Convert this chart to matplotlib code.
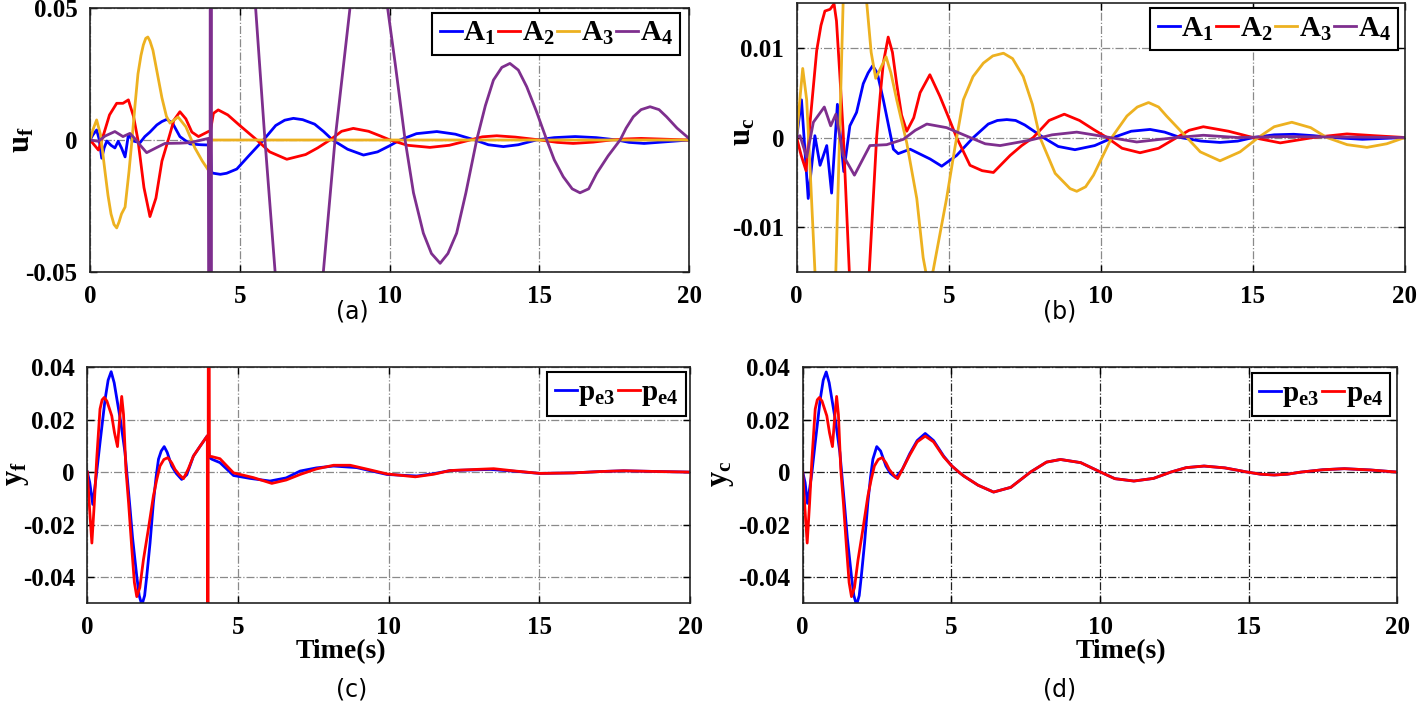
import matplotlib
matplotlib.use("Agg")
import matplotlib.pyplot as plt

plt.rcParams['font.family'] = 'Liberation Serif'
plt.rcParams['font.weight'] = 'bold'
plt.rcParams['mathtext.fontset'] = 'custom'
plt.rcParams['mathtext.rm'] = 'Liberation Serif'
plt.rcParams['mathtext.bf'] = 'Liberation Serif:bold'

# ---- panel (a): u_f ----
a_t1 = [0, 0.1, 0.22, 0.3, 0.39, 0.47, 0.56, 0.7, 0.83, 0.94, 1.05, 1.17, 1.28, 1.45, 1.67, 1.83, 2.0, 2.23, 2.4, 2.56,
        2.75, 3.0, 3.34, 3.7, 3.95, 4.02, 4.05, 4.12, 4.35, 4.56, 4.9, 5.3, 5.79, 6.2, 6.5, 6.79, 7.1, 7.5, 7.8, 8.1,
        8.6, 9.13, 9.6, 10.0, 10.35, 10.9, 11.58, 12.2, 12.85, 13.3, 13.8, 14.3, 14.9, 15.5, 16.2, 16.9, 17.6, 18.0,
        18.5, 19.2, 20]
a_u1 = [0, 0.002, 0.0038, 0.0005, -0.0069, -0.003, -0.0004, -0.002, -0.003, -0.0005, -0.003, -0.0064, 0.0019, -0.0004,
        -0.001, 0.0013, 0.003, 0.0057, 0.007, 0.0078, 0.0065, 0.0013, -0.0015, -0.0018, -0.0019, -0.002, -0.0122,
        -0.0126, -0.013, -0.0126, -0.011, -0.006, 0, 0.0055, 0.0075, 0.0082, 0.0077, 0.006, 0.0032, 0, -0.0035,
        -0.0057, -0.0045, -0.0022, 0, 0.0024, 0.0032, 0.0022, 0, -0.0018, -0.0025, -0.0018, 0, 0.0009, 0.0013, 0.0009,
        0, -0.0009, -0.0013, -0.0007, 0]

a_t2 = [0, 0.15, 0.28, 0.45, 0.65, 0.89, 1.1, 1.28, 1.45, 1.6, 1.8, 2.0, 2.2, 2.4, 2.61, 2.8, 3.0, 3.2, 3.4, 3.62, 3.95,
        4.02, 4.12, 4.28, 4.6, 5.0, 5.57, 6.0, 6.57, 7.2, 7.6, 8.01, 8.4, 8.79, 9.3, 9.7, 10.02, 10.6, 11.35, 12.0,
        12.69, 13.1, 13.58, 14.2, 15.03, 15.6, 16.13, 16.8, 17.4, 17.9, 18.4, 19.2, 20]
a_u2 = [0, -0.002, -0.0038, 0.002, 0.0095, 0.0139, 0.0139, 0.0152, 0.009, 0, -0.018, -0.029, -0.022, -0.008, 0, 0.0075,
        0.0107, 0.008, 0.003, 0.0013, 0.0032, 0.0035, 0.0101, 0.0114, 0.0095, 0.0055, 0, -0.0045, -0.0073, -0.0055,
        -0.003, 0, 0.0033, 0.0044, 0.0033, 0.0015, 0, -0.002, -0.0028, -0.002, 0, 0.0012, 0.0016, 0.0011, 0, -0.0009,
        -0.0013, -0.0008, 0, 0.0004, 0.0006, 0.0003, 0]

a_t3 = [0, 0.1, 0.22, 0.35, 0.5, 0.6, 0.7, 0.8, 0.89, 0.97, 1.05, 1.17, 1.3, 1.4, 1.5, 1.6, 1.7, 1.78, 1.86, 1.93, 2.0,
        2.1, 2.25, 2.4, 2.55, 2.67, 2.8, 2.94, 3.2, 3.5, 3.75, 3.95, 4.0, 20]
a_u3 = [0, 0.004, 0.0076, 0.002, -0.012, -0.021, -0.028, -0.032, -0.0333, -0.031, -0.028, -0.0254, -0.012, 0, 0.013,
        0.025, 0.032, 0.036, 0.0385, 0.039, 0.0375, 0.034, 0.025, 0.016, 0.009, 0.0064, 0.0075, 0.0087, 0.005, -0.003,
        -0.008, -0.0114, 0, 0]

a_t4 = [0, 0.28, 0.5, 0.83, 1.1, 1.33, 1.5, 1.67, 1.89, 2.2, 2.5, 3.0, 3.34, 3.95, 4.0, 4.02, 4.04, 4.06, 4.6, 5.2, 5.51,
        5.84, 6.18, 6.6, 7.0, 7.4, 7.79, 8.18, 8.68, 9.1, 9.5, 9.9, 10.2, 10.52, 10.8, 11.13, 11.4, 11.69, 11.95,
        12.24, 12.55, 12.91, 13.2, 13.47, 13.75, 14.02, 14.3, 14.58, 14.9, 15.25, 15.5, 15.8, 16.1, 16.36, 16.65,
        16.92, 17.3, 17.7, 17.9, 18.14, 18.4, 18.7, 19.0, 19.25, 19.6, 20]
a_u4 = [0, -0.0005, 0.0015, 0.0032, 0.0013, 0.0025, 0.0005, -0.0019, -0.0048, -0.003, -0.0013, -0.0012, -0.001, 0.0006,
        -0.3, 0.3, -0.3, 0.3, 0.2, 0.09, 0.053, 0, -0.05, -0.09, -0.1, -0.085, -0.05, 0, 0.05, 0.075, 0.07, 0.053, 0.028,
        0, -0.02, -0.0353, -0.043, -0.0467, -0.043, -0.0353, -0.02, 0, 0.013, 0.0227, 0.0275, 0.029, 0.0265, 0.0202,
        0.011, 0, -0.0075, -0.0139, -0.0185, -0.02, -0.0185, -0.0126, -0.006, 0, 0.0045, 0.0088, 0.0115, 0.0126,
        0.0115, 0.0088, 0.0045, 0.0006]

# ---- panel (b): u_c ----
b_t1 = [0, 0.16, 0.38, 0.6, 0.77, 0.99, 1.15, 1.34, 1.55, 1.75, 1.97, 2.19, 2.35, 2.5, 2.65, 2.85, 3.18, 3.34, 3.73,
        4.39, 4.77, 5.26, 5.81, 6.3, 6.6, 6.91, 7.2, 7.5, 8.11, 8.6, 9.15, 9.8, 10.41, 11.0, 11.62, 12.1, 12.61, 13.3,
        13.92, 14.5, 15.02, 15.7, 16.34, 17.0, 17.6, 18.6, 19.3, 20]
b_u1 = [0, 0.0042, -0.0068, 0.0002, -0.0031, -0.0009, -0.0062, 0.0037, -0.0038, 0.0013, 0.0028, 0.006, 0.0072, 0.008,
        0.0072, 0.0042, -0.0013, -0.0018, -0.0013, -0.0024, -0.0032, -0.002, 0, 0.0015, 0.0019, 0.002, 0.0019, 0.0014,
        0, -0.001, -0.00136, -0.0009, 0, 0.0007, 0.0009, 0.0006, 0, -0.0004, -0.00055, -0.0004, 0, 0.0003, 0.00036,
        0.0002, 0, -0.0002, -0.0001, 0]

b_t2 = [0, 0.15, 0.31, 0.45, 0.66, 0.8, 0.93, 1.1, 1.23, 1.31, 1.42, 1.53, 1.73, 1.95, 2.15, 2.39, 2.63, 2.75, 2.85,
        3.01, 3.15, 3.29, 3.45, 3.62, 3.85, 4.06, 4.38, 4.71, 5.0, 5.26, 5.7, 6.1, 6.47, 7.02, 7.4, 7.78, 8.3, 8.8, 9.3,
        9.76, 10.2, 10.7, 11.29, 11.9, 12.5, 12.9, 13.37, 14.2, 15.0, 15.9, 16.99, 18.09, 19.0, 20]
b_u2 = [0, -0.002, -0.0037, 0.002, 0.0097, 0.0125, 0.0141, 0.0143, 0.0149, 0.013, 0.007, 0.0006, -0.0148, -0.025, -0.025,
        -0.0148, 0, 0.0048, 0.0083, 0.0112, 0.0095, 0.006, 0.0025, 0.0007, 0.0022, 0.005, 0.007, 0.0046, 0.0022, 0,
        -0.0031, -0.0037, -0.0039, -0.002, -0.0009, 0, 0.0019, 0.0026, 0.0019, 0.0009, 0, -0.0012, -0.0017, -0.0012, 0,
        0.0008, 0.0012, 0.0007, 0, -0.0006, 0, 0.0004, 0.0002, 0]

b_t3 = [0, 0.1, 0.2, 0.33, 0.45, 0.6, 0.8, 1.0, 1.29, 1.41, 1.53, 1.8, 2.0, 2.3, 2.45, 2.6, 2.77, 2.94, 3.1, 3.29, 3.62,
        3.95, 4.16, 4.33, 4.49, 4.93, 5.2, 5.48, 5.8, 6.14, 6.45, 6.8, 7.1, 7.45, 7.75, 8.0, 8.5, 8.99, 9.21, 9.5, 9.76,
        10.36, 10.86, 11.2, 11.57, 11.9, 12.16, 12.83, 13.27, 13.92, 14.58, 15.18, 15.7, 16.28, 16.9, 17.43, 18.1,
        18.75, 19.4, 20]
b_u3 = [0, 0.004, 0.0077, 0.0042, -0.004, -0.0148, -0.025, -0.028, -0.0148, 0, 0.0152, 0.026, 0.028, 0.0152, 0.0095,
        0.0066, 0.0078, 0.009, 0.0072, 0.0042, -0.0006, -0.0068, -0.0134, -0.0165, -0.0148, -0.0068, -0.0012, 0.0042,
        0.0068, 0.0083, 0.0091, 0.0094, 0.0088, 0.0068, 0.0037, 0, -0.004, -0.0057, -0.006, -0.0055, -0.0042, 0,
        0.0024, 0.0034, 0.0039, 0.0034, 0.0024, 0, -0.0016, -0.0026, -0.0016, 0, 0.0012, 0.0017, 0.0011, 0, -0.0008,
        -0.0011, -0.0007, 0]

b_t4 = [0, 0.11, 0.33, 0.55, 0.91, 1.12, 1.29, 1.53, 1.9, 2.41, 2.96, 3.51, 3.9, 4.28, 4.93, 5.7, 6.2, 6.69, 7.67, 8.4,
        9.21, 10.3, 11.18, 12.5, 13.37, 14.5, 16, 20]
b_u4 = [0, 0.0002, -0.0022, 0.0017, 0.0034, 0.0013, 0.0026, -0.002, -0.0042, -0.0009, -0.0008, -0.0002, 0.0008, 0.0015,
        0.0011, 0, -0.0007, -0.0009, -0.0003, 0.0003, 0.0006, 0, -0.0005, 0, 0.00025, 0, 0.0001, 0]

# ---- panel (c): y_f ----
c_t1 = [0, 0.08, 0.18, 0.3, 0.42, 0.59, 0.69, 0.79, 0.89, 0.98, 1.11, 1.25, 1.42, 1.5, 1.64, 1.72, 1.81, 1.9, 1.97,
        2.08, 2.19, 2.28, 2.36, 2.45, 2.55, 2.65, 2.8, 2.95, 3.13, 3.3, 3.52, 3.75, 3.98, 4.05, 4.13, 4.4, 4.85, 5.4,
        6.06, 6.6, 7.06, 7.6, 8.17, 8.94, 9.4, 9.94, 10.93, 11.5, 12.04, 13.37, 14.2, 15.02, 16.13, 17.0, 17.79, 19, 20]
c_u1 = [0, -0.004, -0.0123, -0.001, 0.0112, 0.0278, 0.035, 0.0382, 0.034, 0.0278, 0.0189, 0.0074, -0.0143, -0.025,
        -0.0397, -0.047, -0.0506, -0.047, -0.0397, -0.027, -0.0117, -0.002, 0.0049, 0.008, 0.0097, 0.0075, 0.0023,
        -0.0005, -0.0028, -0.001, 0.0061, 0.01, 0.0138, 0.0055, 0.0049, 0.0036, -0.0013, -0.0024, -0.0034, -0.0022,
        0.0004, 0.0016, 0.0023, 0.0017, 0.0005, -0.0009, -0.0015, -0.0006, 0.0006, 0.001, 0.0003, -0.0005, -0.0003,
        0.0002, 0.0005, 0.0002, 0]

c_t2 = [0, 0.08, 0.15, 0.23, 0.31, 0.42, 0.49, 0.56, 0.65, 0.81, 0.9, 1.0, 1.07, 1.14, 1.2, 1.28, 1.37, 1.47, 1.56, 1.64,
        1.74, 1.86, 2.02, 2.19, 2.3, 2.41, 2.54, 2.67, 2.8, 2.91, 3.05, 3.19, 3.35, 3.52, 3.75, 3.98, 4.0, 4.02, 4.05,
        4.13, 4.4, 4.85, 5.51, 6.12, 6.6, 7.06, 7.6, 8.17, 8.72, 9.4, 9.94, 10.88, 11.5, 12.04, 13.48, 14.2, 15.02,
        16.13, 17.0, 17.79, 19, 20]
c_u2 = [0, -0.015, -0.027, -0.012, 0.0049, 0.024, 0.0275, 0.0284, 0.027, 0.0214, 0.015, 0.0097, 0.02, 0.0288, 0.022,
        0.001, -0.012, -0.0283, -0.042, -0.0474, -0.044, -0.0334, -0.022, -0.0092, -0.003, 0.0023, 0.0048, 0.0055,
        0.0035, 0.001, -0.001, -0.0025, 0.0012, 0.0061, 0.01, 0.0138, -0.2, 0.2, 0.006, 0.0059, 0.0051, -0.0003, -0.0021,
        -0.0043, -0.003, -0.0009, 0.0012, 0.0026, 0.0026, 0.0008, -0.0007, -0.0018, -0.0008, 0.0006, 0.0013, 0.0004,
        -0.0005, -0.0003, 0.0002, 0.0005, 0.0002, 0]

# ---- panel (d): y_c ----
d_t1 = [0, 0.08, 0.16, 0.3, 0.42, 0.59, 0.69, 0.79, 0.89, 0.98, 1.11, 1.25, 1.42, 1.5, 1.64, 1.72, 1.81, 1.9, 1.97,
        2.08, 2.19, 2.28, 2.36, 2.49, 2.62, 2.8, 2.95, 3.13, 3.35, 3.6, 3.85, 4.12, 4.4, 4.74, 5.0, 5.25, 5.42, 5.9,
        6.42, 7.0, 7.66, 8.2, 8.67, 9.35, 10.02, 10.5, 11.14, 11.8, 12.38, 12.9, 13.5, 14.2, 14.96, 15.4, 15.86, 16.3,
        16.76, 17.5, 18.22, 19.1, 20]
d_u1 = [0, -0.004, -0.0119, -0.001, 0.0112, 0.0278, 0.035, 0.0381, 0.034, 0.0278, 0.0189, 0.0074, -0.0143, -0.025,
        -0.0397, -0.047, -0.0506, -0.047, -0.0397, -0.027, -0.0117, -0.002, 0.0049, 0.0097, 0.008, 0.0023, -0.0005,
        -0.0021, 0.001, 0.007, 0.012, 0.0147, 0.012, 0.0061, 0.0025, 0, -0.0015, -0.005, -0.0076, -0.0058, 0, 0.0038,
        0.0048, 0.0036, 0, -0.0025, -0.0034, -0.0024, 0, 0.0017, 0.0023, 0.0016, 0, -0.0008, -0.0011, -0.0008, 0,
        0.0009, 0.0013, 0.0008, 0]

d_t2 = [0, 0.08, 0.15, 0.23, 0.31, 0.42, 0.49, 0.56, 0.65, 0.81, 0.9, 1.0, 1.07, 1.14, 1.2, 1.28, 1.37, 1.47, 1.56, 1.64,
        1.74, 1.86, 2.02, 2.19, 2.3, 2.41, 2.54, 2.67, 2.8, 2.91, 3.05, 3.19, 3.35, 3.6, 3.85, 4.12, 4.4, 4.74, 5.0,
        5.25, 5.42, 5.9, 6.42, 7.0, 7.66, 8.2, 8.67, 9.35, 10.02, 10.5, 11.14, 11.8, 12.38, 12.9, 13.5, 14.2, 14.96,
        15.4, 15.86, 16.3, 16.76, 17.5, 18.22, 19.1, 20]
d_u2 = [0, -0.015, -0.027, -0.012, 0.0049, 0.024, 0.0275, 0.0284, 0.027, 0.0214, 0.015, 0.0097, 0.02, 0.0288, 0.022,
        0.001, -0.012, -0.0283, -0.042, -0.0474, -0.044, -0.0334, -0.022, -0.0092, -0.003, 0.0023, 0.0048, 0.0055,
        0.0035, 0.001, -0.001, -0.0025, 0.001, 0.0065, 0.0115, 0.0137, 0.0115, 0.0058, 0.0025, 0, -0.0015, -0.005,
        -0.0076, -0.0058, 0, 0.0038, 0.0048, 0.0036, 0, -0.0025, -0.0034, -0.0024, 0, 0.0017, 0.0023, 0.0016, 0,
        -0.0008, -0.0011, -0.0008, 0, 0.0009, 0.0013, 0.0008, 0]

A_labels = [r'$\mathbf{A_1}$', r'$\mathbf{A_2}$', r'$\mathbf{A_3}$', r'$\mathbf{A_4}$']
p_labels = [r'$\mathbf{p_{e3}}$', r'$\mathbf{p_{e4}}$']
colors = ['#0000FF', '#FF0000', '#EDB120', '#7E2F8E']

fig = plt.figure(figsize=(14.18, 7.13), dpi=100)
ax_a = fig.add_axes([0.0635, 0.6185, 0.4224, 0.3703])
ax_b = fig.add_axes([0.5618, 0.6185, 0.4290, 0.3773])
ax_c = fig.add_axes([0.0616, 0.1536, 0.4251, 0.3317])
ax_d = fig.add_axes([0.5661, 0.1536, 0.4193, 0.3317])

lw = 2.0
for t, u, c in zip([a_t1, a_t2, a_t3, a_t4], [a_u1, a_u2, a_u3, a_u4], colors):
    ax_a.plot(t, u, color=c, lw=lw)
for t, u, c in zip([b_t1, b_t2, b_t3, b_t4], [b_u1, b_u2, b_u3, b_u4], colors):
    ax_b.plot(t, u, color=c, lw=lw)
ax_c.plot(c_t1, c_u1, color=colors[0], lw=lw)
ax_c.plot(c_t2, c_u2, color=colors[1], lw=lw)
ax_d.plot(d_t1, d_u1, color=colors[0], lw=lw)
ax_d.plot(d_t2, d_u2, color=colors[1], lw=lw)

ax_a.set_ylim(-0.05, 0.05)
ax_a.set_yticks([-0.05, 0, 0.05])
ax_a.set_yticklabels(['-0.05', '0', '0.05'])
ax_b.set_ylim(-0.015, 0.015)
ax_b.set_yticks([-0.01, 0, 0.01])
ax_b.set_yticklabels(['-0.01', '0', '0.01'])
for ax in (ax_c, ax_d):
    ax.set_ylim(-0.05, 0.04)
    ax.set_yticks([-0.04, -0.02, 0, 0.02, 0.04])
    ax.set_yticklabels(['-0.04', '-0.02', '0', '0.02', '0.04'])

for ax in (ax_a, ax_b, ax_c, ax_d):
    ax.set_xlim(0, 20)
    ax.set_xticks([0, 5, 10, 15, 20])
    ax.tick_params(direction='in', top=True, right=True, length=5, width=1, labelsize=18, pad=9)
    for lab in ax.get_xticklabels() + ax.get_yticklabels():
        lab.set_fontweight('bold')
    for s in ax.spines.values():
        s.set_linewidth(1.2)
        s.set_color('#222222')
    gc = '#222222' if ax is ax_d else '#8a8a8a'
    ax.grid(True, linestyle='-.', color=gc, linewidth=0.9)

ax_a.set_ylabel(r'$\mathbf{u_f}$', fontsize=22)
ax_b.set_ylabel(r'$\mathbf{u_c}$', fontsize=22)
ax_c.set_ylabel(r'$\mathbf{y_f}$', fontsize=22)
ax_d.set_ylabel(r'$\mathbf{y_c}$', fontsize=22)
ax_a.yaxis.set_label_coords(-0.09, 0.5)
ax_b.yaxis.set_label_coords(-0.064, 0.52)
ax_c.yaxis.set_label_coords(-0.093, 0.55)
ax_d.yaxis.set_label_coords(-0.112, 0.55)

for ax, xc in ((ax_c, 0.42), (ax_d, 0.535)):
    ax.set_xlabel('Time(s)', fontsize=20, fontweight='bold')
    ax.xaxis.set_label_coords(xc, -0.15)

leg_kw = dict(ncol=4, handlelength=0.75, handletextpad=0.05, columnspacing=0.1, borderpad=0.25,
              fancybox=False, edgecolor='black', framealpha=1, loc='upper right', borderaxespad=0,
              prop={'size': 21, 'weight': 'bold'})
for ax, anchor in ((ax_a, (0.985, 0.981)), (ax_b, (0.9885, 0.981))):
    leg = ax.legend(A_labels, bbox_to_anchor=anchor, **leg_kw)
    leg.get_frame().set_linewidth(1.5)
for ax, anchor in ((ax_c, (0.993, 0.979)), (ax_d, (0.988, 0.975))):
    leg = ax.legend(p_labels, bbox_to_anchor=anchor, **leg_kw)
    leg.get_frame().set_linewidth(1.5)

for txt, x, y in (('(a)', 352, 312), ('(b)', 1060, 312), ('(c)', 352, 690), ('(d)', 1060, 690)):
    fig.text(x / 1418, 1 - y / 713, txt, ha='center', va='center', fontsize=17,
             family='DejaVu Sans', fontweight='normal')

fig.savefig('out.png', dpi=100)
